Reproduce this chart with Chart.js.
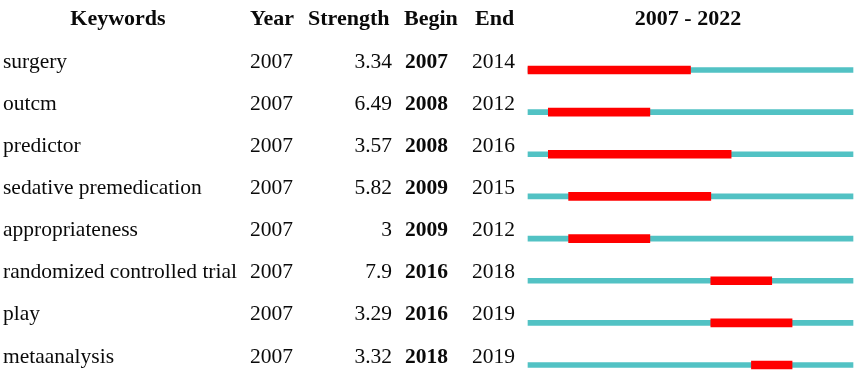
<!DOCTYPE html>
<html>
<head>
<meta charset="utf-8">
<script src="https://cdn.jsdelivr.net/npm/chart.js@4"></script>
<style>
  body { margin: 0; background: #fff; }
  #wrap { position: relative; width: 864px; height: 377px; font-family: "Liberation Serif", "Times New Roman", serif; font-size: 21.5px; color: #0a0a0a; }
  #wrap canvas { position: absolute; left: 0; top: 0; }
  .t { position: absolute; line-height: 24px; height: 24px; white-space: nowrap; }
  .b { font-weight: bold; }
  .h { font-size: 22px; }
</style>
</head>
<body>
<div id="wrap">
  <canvas id="burst" width="864" height="377"></canvas>
</div>
<script>
// dữ liệu bảng burst
var keywords = ['surgery', 'outcm', 'predictor', 'sedative premedication', 'appropriateness',
                'randomized controlled trial', 'play', 'metaanalysis'];
var yearCol = [2007, 2007, 2007, 2007, 2007, 2007, 2007, 2007];
var strength = ['3.34', '6.49', '3.57', '5.82', '3', '7.9', '3.29', '3.32'];
var beginYear = [2007, 2008, 2008, 2009, 2009, 2016, 2016, 2018];
var endYear = [2014, 2012, 2016, 2015, 2012, 2018, 2019, 2019];
var rangeStart = 2007;
var rangeEnd = 2022;

var wrap = document.getElementById('wrap');
function addText(txt, left, top, opts) {
    var d = document.createElement('div');
    d.className = 't' + (opts && opts.bold ? ' b' : '') + (opts && opts.head ? ' h' : '');
    d.textContent = txt;
    d.style.left = left + 'px';
    d.style.top = top + 'px';
    if (opts && opts.width) {
        d.style.width = opts.width + 'px';
        d.style.textAlign = opts.align || 'left';
    }
    wrap.appendChild(d);
}

// chữ của bảng, đặt theo vị trí hàng của trục y
var tableText = {
    id: 'tableText',
    done: false,
    afterDraw: function (chart) {
        if (this.done) return;
        this.done = true;
        var headTop = 6;
        addText('Keywords', 18, headTop, { bold: true, head: true, width: 200, align: 'center' });
        addText('Year', 250, headTop, { bold: true, head: true });
        addText('Strength', 308, headTop, { bold: true, head: true });
        addText('Begin', 404, headTop, { bold: true, head: true });
        addText('End', 475, headTop, { bold: true, head: true });
        addText(rangeStart + ' - ' + rangeEnd, 588, headTop, { bold: true, head: true, width: 200, align: 'center' });

        var yScale = chart.scales.y;
        for (var i = 0; i < keywords.length; i++) {
            var top = yScale.getPixelForTick(i) - 21.5;
            addText(keywords[i], 3, top);
            addText(String(yearCol[i]), 250, top);
            addText(strength[i], 292, top, { width: 100, align: 'right' });
            addText(String(beginYear[i]), 405, top, { bold: true });
            addText(String(endYear[i]), 472, top);
        }
    }
};

var ctx = document.getElementById('burst').getContext('2d');
var chart = new Chart(ctx, {
    type: 'bar',
    data: {
        labels: keywords,
        datasets: [{
            label: 'burst',
            data: beginYear.map(function (b, i) { return [b, endYear[i] + 1]; }),
            backgroundColor: '#ff0000',
            barThickness: 8,
            grouped: false,
            borderWidth: 0,
            clip: false,
            order: 0
        }, {
            label: 'span',
            data: keywords.map(function () { return [rangeStart, rangeEnd + 1]; }),
            backgroundColor: '#52c2c4',
            barThickness: 5,
            grouped: false,
            borderWidth: 0,
            clip: false,
            order: 1
        }]
    },
    options: {
        indexAxis: 'y',
        responsive: false,
        animation: false,
        layout: { padding: { left: 528, right: 11, top: 70, bottom: 12 } },
        plugins: { legend: { display: false }, tooltip: { enabled: false } },
        scales: {
            x: { type: 'linear', min: rangeStart, max: rangeEnd + 1, display: false },
            y: { type: 'category', offset: false, display: false }
        }
    },
    plugins: [tableText]
});
</script>
</body>
</html>
